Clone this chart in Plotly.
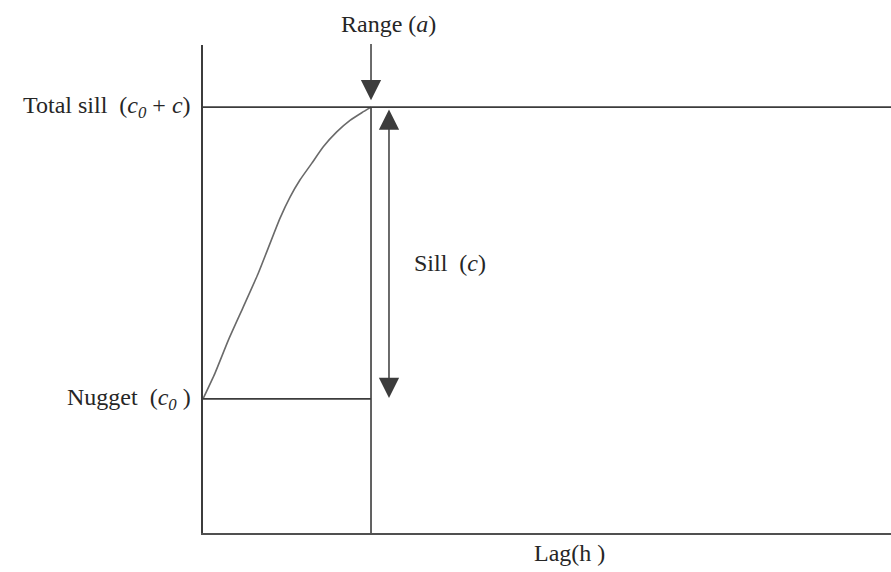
import plotly.graph_objects as go

# lag in units of the range (a = 1), semivariance in units of the total sill
range_a = 1.0
nugget_c0 = 0.315
total_sill = 1.0

curve_lag = [0.0, 0.071, 0.151, 0.240, 0.329, 0.458, 0.518, 0.577, 0.647, 0.716, 0.796, 0.875, 0.945, 1.0]
curve_gamma = [0.315, 0.375, 0.453, 0.531, 0.610, 0.739, 0.789, 0.829, 0.868, 0.907, 0.942, 0.969, 0.987, 1.0]

lag_max = 4.095
gamma_max = 1.146

LINE = "#3c3c3c"
FONT = dict(family="Liberation Serif, Times New Roman, serif", size=24, color="#262626")
SP2 = "\u00a0 "


def py(v):
    return v / gamma_max


fig = go.Figure()

# variogram curve
fig.add_trace(
    go.Scatter(
        x=curve_lag, y=curve_gamma, mode="lines",
        line=dict(color="#6a6a6a", width=1.6, shape="spline", smoothing=0.5),
        hoverinfo="skip",
    )
)
# total sill line
fig.add_trace(
    go.Scatter(x=[0, lag_max], y=[total_sill, total_sill], mode="lines",
               line=dict(color=LINE, width=1.6), hoverinfo="skip")
)
# nugget line
fig.add_trace(
    go.Scatter(x=[0, range_a], y=[nugget_c0, nugget_c0], mode="lines",
               line=dict(color=LINE, width=1.6), hoverinfo="skip")
)
# range vertical line
fig.add_trace(
    go.Scatter(x=[range_a, range_a], y=[0, total_sill], mode="lines",
               line=dict(color=LINE, width=1.6), hoverinfo="skip")
)

# range arrow (pointing down onto the sill)
fig.add_annotation(
    x=range_a, y=1.016, ax=range_a, ay=1.152,
    xref="x", yref="y", axref="x", ayref="y",
    text="", showarrow=True, arrowhead=2, arrowsize=2.7, arrowwidth=1.5,
    arrowcolor=LINE,
)
# sill double arrow
fig.add_annotation(
    x=1.107, y=0.317, ax=1.107, ay=0.998,
    xref="x", yref="y", axref="x", ayref="y",
    text="", showarrow=True, arrowhead=2, arrowsize=2.7, arrowwidth=1.5,
    arrowside="end+start", arrowcolor=LINE,
)

labels = [
    dict(x=0.269, y=1.043, text="Range (<i>a</i>)", xanchor="center"),
    dict(x=-0.015, y=py(total_sill), text="Total sill" + SP2 + "(<i>c<sub>0</sub></i> + <i>c</i>)", xanchor="right"),
    dict(x=-0.015, y=py(nugget_c0), text="Nugget" + SP2 + "(<i>c<sub>0</sub></i> )", xanchor="right"),
    dict(x=0.304, y=0.553, text="Sill" + SP2 + "(<i>c</i>)", xanchor="left"),
    dict(x=0.532, y=-0.041, text="Lag(h )", xanchor="center"),
]
for lab in labels:
    fig.add_annotation(
        x=lab["x"], y=lab["y"], xref="paper", yref="paper", text=lab["text"],
        xanchor=lab["xanchor"], yanchor="middle", showarrow=False, font=FONT,
    )

fig.update_xaxes(
    range=[0, lag_max], showgrid=False, zeroline=False, showticklabels=False,
    ticks="", showline=True, linecolor="#505050", linewidth=2,
)
fig.update_yaxes(
    range=[0, gamma_max], showgrid=False, zeroline=False, showticklabels=False,
    ticks="", showline=True, linecolor=LINE, linewidth=1.6,
)
fig.update_layout(
    width=891, height=572,
    margin=dict(l=203, r=0, t=45, b=39),
    plot_bgcolor="white", paper_bgcolor="white",
    showlegend=False,
)

fig.write_html(
    "out.html",
    config={"displayModeBar": False},
    post_script="document.body.style.margin = '0';",
)
